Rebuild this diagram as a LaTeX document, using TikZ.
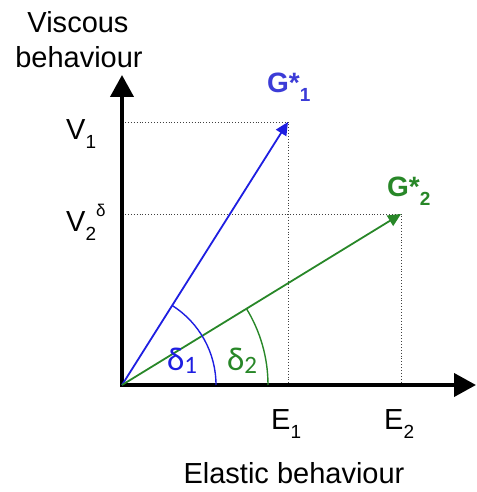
\documentclass[tikz,border=0pt]{standalone}
\usepackage{fontspec}
\setmainfont{Liberation Sans}
\newfontfamily\calib{Carlito}
\usetikzlibrary{arrows.meta,calc}
\definecolor{vblue}{RGB}{30,30,225}
\definecolor{gblue}{RGB}{60,60,215}
\definecolor{vgreen}{RGB}{40,135,40}
\newcommand{\mysub}[1]{\raisebox{-0.3em}{\fontsize{19}{19}\selectfont #1}}
\newcommand{\mysup}[1]{\raisebox{0.55em}{\fontsize{17}{17}\selectfont #1}}
\tikzset{
  lbl/.style={inner sep=0pt, font=\fontsize{29}{29}\selectfont},
  axis/.style={line width=4pt, -{Triangle[length=22pt,width=23pt]}},
  vec/.style={line width=1.8pt, -{Triangle[length=13pt,width=12pt]}},
  guide/.style={gray!50!black, dotted, line width=0.9pt},
  arcline/.style={line width=1.4pt}
}
\begin{document}
\begin{tikzpicture}[x=1pt,y=1pt]
\useasboundingbox (0,0) rectangle (476,492);
% coordinates
\coordinate (O) at (122,107);
\coordinate (ytip) at (122,417);
\coordinate (xtip) at (476,107);
\coordinate (G1) at (288,370);
\coordinate (G2) at (401,278);
\coordinate (v1) at (125,370);
\coordinate (v2) at (125,278);
\coordinate (e1) at (288,109);
\coordinate (e2) at (401,109);
% guides
\draw[guide] (v1) -- (G1) -- (e1);
\draw[guide] (v2) -- (G2) -- (e2);
% axes
\draw[axis] (O) -- (ytip);
\draw[axis] ([xshift=-2pt]O) -- (xtip);
% vectors
\draw[vec, vblue] (O) -- (G1);
\draw[vec, vgreen] (O) -- (G2);
% arcs
\draw[arcline, vblue] ($(O)+(94,0)$) arc[start angle=0, end angle=57.7, radius=94];
\draw[arcline, vgreen] ($(O)+(146,0)$) arc[start angle=0, end angle=31.6, radius=146];
% labels
\node[lbl, anchor=base] (vis) at (78,459) {Viscous};
\node[lbl, anchor=base] (beh) at (79,424) {behaviour};
\node[lbl, anchor=base west] (V1) at (66,352) {V\mysub{1}};
\node[lbl, anchor=base west] (V2) at (66,260) {V\mysub{2}\mysup{δ}};
\node[lbl, anchor=base west] (E1) at (271,62) {E\mysub{1}};
\node[lbl, anchor=base west] (E2) at (384,62) {E\mysub{2}};
\node[lbl, anchor=base] (el) at (294,9) {Elastic behaviour};
\node[lbl, anchor=base west, text=gblue, font=\fontsize{28}{28}\selectfont\bfseries] (g1) at (267,399) {G*\mysub{1}};
\node[lbl, anchor=base west, text=vgreen, font=\fontsize{28}{28}\selectfont\bfseries] (g2) at (387,295) {G*\mysub{2}};
\node[inner sep=0pt, anchor=center, text=vblue, font=\calib\fontsize{33}{33}\selectfont] (d1) at (182,131) {δ\raisebox{-0.1em}{\fontsize{25}{25}\selectfont 1}};
\node[inner sep=0pt, anchor=center, text=vgreen, font=\calib\fontsize{33}{33}\selectfont] (d2) at (242,131) {δ\raisebox{-0.1em}{\fontsize{25}{25}\selectfont 2}};
\end{tikzpicture}
\end{document}
